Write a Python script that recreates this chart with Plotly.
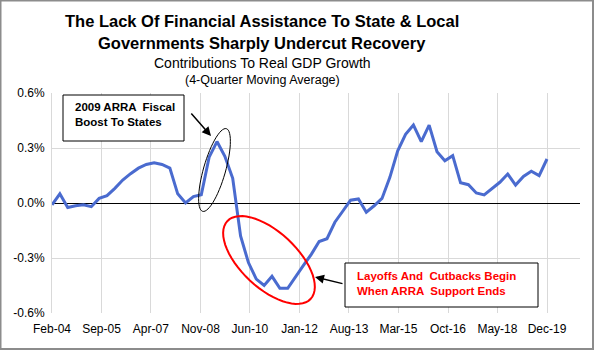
import math
import pandas as pd
import plotly.graph_objects as go

# ---- data ----
values = [-0.01, 0.05, -0.025, -0.015, -0.01, -0.02, 0.025, 0.04, 0.08, 0.125,
          0.16, 0.19, 0.21, 0.22, 0.21, 0.19, 0.05, 0.0, 0.035, 0.045,
          0.25, 0.335, 0.255, 0.135, -0.18, -0.325, -0.415, -0.45, -0.40, -0.465,
          -0.465, -0.40, -0.34, -0.28, -0.21, -0.195, -0.105, -0.045, 0.015, 0.022,
          -0.05, -0.015, 0.025, 0.14, 0.285, 0.375, 0.425, 0.335, 0.425, 0.28,
          0.23, 0.258, 0.11, 0.10, 0.055, 0.044, 0.076, 0.113, 0.158, 0.098,
          0.145, 0.173, 0.149, 0.24]
dates = pd.date_range("2004-02-01", "2019-12-01", periods=len(values))
tick_dates = ["2004-02-01", "2005-09-01", "2007-04-01", "2008-11-01", "2010-06-01",
              "2012-01-01", "2013-08-01", "2015-03-01", "2016-10-01", "2018-05-01",
              "2019-12-01"]
tick_labels = ["Feb-04", "Sep-05", "Apr-07", "Nov-08", "Jun-10", "Jan-12",
               "Aug-13", "Mar-15", "Oct-16", "May-18", "Dec-19"]
y_ticks = [0.6, 0.3, 0.0, -0.3, -0.6]
y_labels = ["0.6%", "0.3%", "0.0%", "-0.3%", "-0.6%"]

# ---- layout geometry (pixels) ----
W, H = 594, 350
L, R, T, B = 52, 580, 93, 313
pw, ph = R - L, B - T

def px(x):
    return (x - L) / pw

def py(y):
    return (B - y) / ph

start = pd.Timestamp("2004-02-01")
last = pd.Timestamp("2019-12-01")
end = start + (last - start) * (pw / (547 - L))

def ellipse_path(cx, cy, a, b, ang_deg, n=60):
    ang = math.radians(ang_deg)
    pts = []
    for k in range(n + 1):
        t = 2 * math.pi * k / n
        ex, ey = a * math.cos(t), b * math.sin(t)
        x = cx + ex * math.cos(ang) - ey * math.sin(ang)
        y = cy + ex * math.sin(ang) + ey * math.cos(ang)
        pts.append((px(x), py(y)))
    return "M " + " L ".join(f"{p[0]:.4f},{p[1]:.4f}" for p in pts) + " Z"

fig = go.Figure()
fig.add_trace(go.Scatter(x=dates, y=values, mode="lines",
                         line=dict(color="#4a6bcf", width=3), hoverinfo="skip"))

font = "Arial, Liberation Sans, sans-serif"

shapes = [
    dict(type="rect", xref="paper", yref="paper", x0=px(0.5), x1=px(W - 1), y0=py(H - 1), y1=py(0.5),
         line=dict(color="#8c8c8c", width=2), layer="above"),
    dict(type="path", xref="paper", yref="paper", path=ellipse_path(214.5, 170, 43, 11, -74),
         line=dict(color="black", width=1)),
    dict(type="path", xref="paper", yref="paper", path=ellipse_path(269, 260, 57, 28, 43),
         line=dict(color="#ff0000", width=2)),
    dict(type="rect", xref="paper", yref="paper", x0=px(63), x1=px(184), y0=py(141), y1=py(95),
         line=dict(color="black", width=1), fillcolor="white"),
    dict(type="rect", xref="paper", yref="paper", x0=px(345), x1=px(538), y0=py(307), y1=py(263),
         line=dict(color="black", width=1), fillcolor="white"),
]

def arrow(hx, hy, tx, ty):
    return dict(xref="paper", yref="paper", x=px(hx), y=py(hy), ax=tx - hx, ay=ty - hy,
                axref="pixel", ayref="pixel", text="", showarrow=True, arrowhead=2,
                arrowsize=1.2, arrowwidth=1.5, arrowcolor="black")

annotations = [
    dict(xref="paper", yref="paper", x=px(262), y=py(21), text="<b>The Lack Of Financial Assistance To State &amp; Local</b>",
         showarrow=False, font=dict(family=font, size=16.5, color="black"), xanchor="center", yanchor="middle"),
    dict(xref="paper", yref="paper", x=px(262), y=py(43), text="<b>Governments Sharply Undercut Recovery</b>",
         showarrow=False, font=dict(family=font, size=16.5, color="black"), xanchor="center", yanchor="middle"),
    dict(xref="paper", yref="paper", x=px(262), y=py(63), text="Contributions To Real GDP Growth",
         showarrow=False, font=dict(family=font, size=14, color="black"), xanchor="center", yanchor="middle"),
    dict(xref="paper", yref="paper", x=px(262), y=py(80), text="(4-Quarter Moving Average)",
         showarrow=False, font=dict(family=font, size=12.5, color="black"), xanchor="center", yanchor="middle"),
    dict(xref="paper", yref="paper", x=px(73), y=py(114), text="<b>2009 ARRA  Fiscal<br>Boost To States</b>",
         showarrow=False, align="left", font=dict(family=font, size=11.5, color="black"),
         xanchor="left", yanchor="middle"),
    dict(xref="paper", yref="paper", x=px(355), y=py(283), text="<b>Layoffs And  Cutbacks Begin<br>When ARRA  Support Ends</b>",
         showarrow=False, align="left", font=dict(family=font, size=11.5, color="#ff0000"),
         xanchor="left", yanchor="middle"),
    arrow(211, 136, 190, 112),
    arrow(315, 277, 344, 284),
]

fig.update_layout(
    width=W, height=H,
    margin=dict(l=L, r=W - R, t=T, b=H - B, pad=0),
    paper_bgcolor="white", plot_bgcolor="white",
    showlegend=False,
    shapes=shapes, annotations=annotations,
    font=dict(family=font, size=12, color="black"),
)
fig.update_xaxes(type="date", range=[start, end], tickvals=tick_dates, ticktext=tick_labels,
                 showgrid=True, gridcolor="#d9d9d9", gridwidth=1, zeroline=False,
                 showline=False, ticks="", ticklabelstandoff=7,
                 tickfont=dict(family=font, size=12, color="black"))
fig.update_yaxes(range=[-0.6, 0.6], tickvals=y_ticks, ticktext=y_labels,
                 showgrid=True, gridcolor="#d9d9d9", gridwidth=1,
                 zeroline=True, zerolinecolor="black", zerolinewidth=1,
                 showline=True, linecolor="#d9d9d9", linewidth=1,
                 ticks="", ticklabelstandoff=4, tickfont=dict(family=font, size=12, color="black"))

fig.write_html("out.html")
